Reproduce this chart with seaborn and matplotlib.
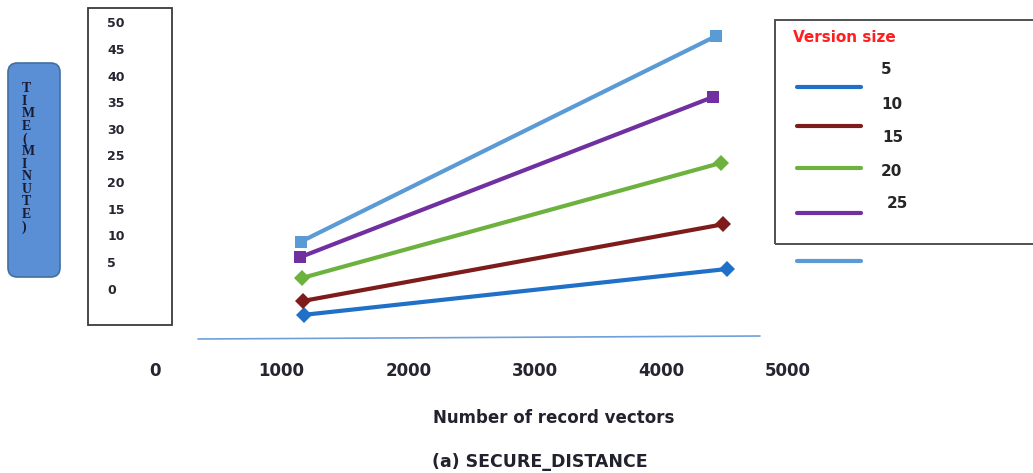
import matplotlib
matplotlib.use("Agg")
import matplotlib.pyplot as plt
from matplotlib.patches import Rectangle, FancyBboxPatch
from matplotlib.lines import Line2D
import seaborn as sns
import pandas as pd

# data
versions = ["5", "10", "15", "20", "25"]
start_records = [1180, 1170, 1160, 1145, 1150]
end_records = [4520, 4490, 4470, 4410, 4430]
start_time = [-4.9, -2.3, 2.0, 5.9, 8.8]
end_time = [3.7, 12.1, 23.6, 36.0, 47.4]
x_ticks = [0, 1000, 2000, 3000, 4000, 5000]
y_ticks = [0, 5, 10, 15, 20, 25, 30, 35, 40, 45, 50]
legend_labels = ["5", "10", "15", "20", "25"]

colors = {"5": "#2070C8", "10": "#7E1C1C", "15": "#6DB23E", "20": "#7030A0", "25": "#5B9BD5"}
marker_map = {"5": "D", "10": "D", "15": "D", "20": "s", "25": "s"}

rows = []
for v, x0, x1, y0, y1 in zip(versions, start_records, end_records, start_time, end_time):
    rows.append({"version": v, "records": x0, "time": y0})
    rows.append({"version": v, "records": x1, "time": y1})
df = pd.DataFrame(rows)

sns.set_style("white")
plt.rcParams["font.family"] = ["DejaVu Sans"]

W, H = 1033, 473
fig = plt.figure(figsize=(W / 100, H / 100), dpi=100)


def fx(x):
    return x / W


def fy(y):
    return 1 - y / H


# axes placed so that 0..5000 and 0..50 fall where the labels sit
left_px, right_px = 155, 788
bot_px, top_px = 331.3, 22.3
ax = fig.add_axes([fx(left_px), fy(bot_px), (right_px - left_px) / W, (bot_px - top_px) / H])
ax.set_facecolor("none")

sns.lineplot(data=df, x="records", y="time", hue="version", style="version",
             palette=colors, markers=marker_map, dashes=False, linewidth=3,
             markersize=8, markeredgewidth=0, legend=False, sort=False, ax=ax)
for ln in ax.lines:
    ln.set_clip_on(False)

ax.set_xlim(0, 5000)
ax.set_ylim(-8, 50)
for s in ax.spines.values():
    s.set_visible(False)

ax.set_xticks(x_ticks)
ax.set_xticklabels([str(t) for t in x_ticks], fontsize=12, fontweight="bold", color="#262633")
ax.tick_params(axis="x", length=0, pad=22)
ax.set_yticks(y_ticks)
ax.set_yticklabels([str(t) for t in y_ticks], fontsize=9, fontweight="bold", color="#262633")
ax.tick_params(axis="y", length=0, pad=34.5)
for lab in ax.get_yticklabels():
    lab.set_ha("left")
ax.set_xlabel("")
ax.set_ylabel("")

# box around the y tick labels
fig.patches.append(Rectangle((fx(88), fy(325)), (172 - 88) / W, (325 - 8) / H,
                             transform=fig.transFigure, fill=False,
                             edgecolor="#3a3a3a", linewidth=1.3))

# rounded y-axis title box
fig.patches.append(FancyBboxPatch((fx(8), fy(277)), (60 - 8) / W, (277 - 63) / H,
                                  boxstyle="round,pad=0,rounding_size=0.009",
                                  mutation_aspect=W / H, transform=fig.transFigure,
                                  facecolor="#5B8FD5", edgecolor="#41709F", linewidth=1.2))
fig.text(fx(22), fy(158), "\n".join("TIME(MINUTE)"), ha="left", va="center",
         multialignment="left", fontsize=10, fontweight="bold",
         family=["Liberation Serif"], color="#1a1a33", linespacing=0.95)

# thin axis line under the plot
fig.lines.append(Line2D([fx(198), fx(760)], [fy(339), fy(336)], transform=fig.transFigure,
                        color="#6FA0DC", linewidth=1.2))

fig.text(fx(554), fy(418), "Number of record vectors", ha="center", va="center",
         fontsize=12, fontweight="bold", color="#22222e")
fig.text(fx(540), fy(462), "(a) SECURE_DISTANCE", ha="center", va="center",
         fontsize=12.5, fontweight="bold", color="#22222e")

# hand-made legend
fig.patches.append(Rectangle((fx(775), fy(244)), (1045 - 775) / W, (244 - 20) / H,
                             transform=fig.transFigure, fill=False,
                             edgecolor="#505050", linewidth=1.4))
fig.text(fx(793), fy(37), "Version size", ha="left", va="center",
         fontsize=11, fontweight="bold", color="#FF1F1F")
legend_line_y = [87, 126, 168, 213, 261]
legend_colors = [colors[v] for v in versions]
for yy, c in zip(legend_line_y, legend_colors):
    fig.lines.append(Line2D([fx(797), fx(861)], [fy(yy), fy(yy)], transform=fig.transFigure,
                            color=c, linewidth=3))
legend_text_pos = [(881, 70), (881, 104), (882, 138), (881, 171), (887, 204)]
for (xx, yy), lab in zip(legend_text_pos, legend_labels):
    fig.text(fx(xx), fy(yy), lab, ha="left", va="center", fontsize=11,
             fontweight="bold", color="#262626")

fig.savefig("out.png", dpi=100)
